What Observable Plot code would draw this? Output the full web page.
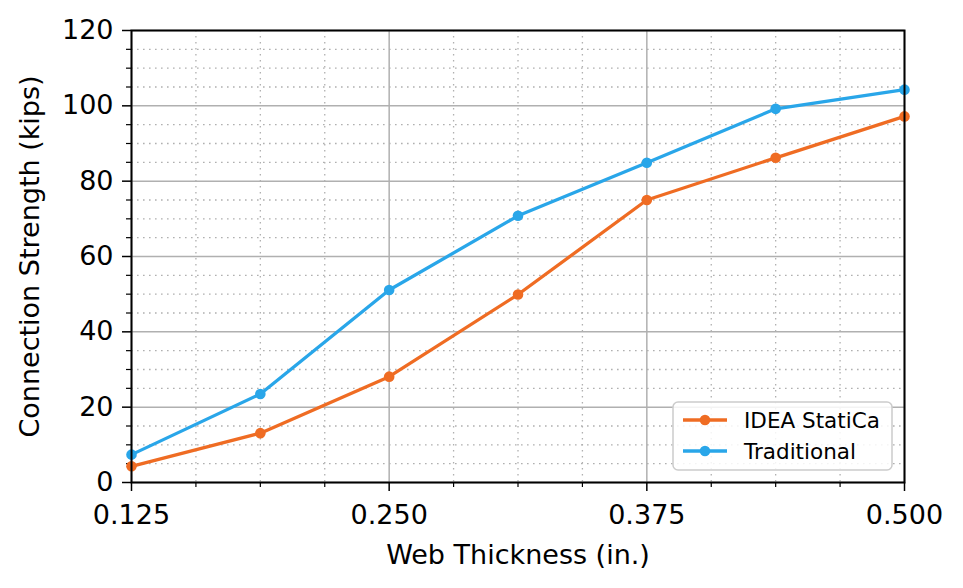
<!DOCTYPE html>
<html>
<head>
<meta charset="utf-8">
<script src="https://cdn.jsdelivr.net/npm/d3@7"></script>
<script src="https://cdn.jsdelivr.net/npm/@observablehq/plot@0.6"></script>
<style>
  html, body { margin: 0; padding: 0; background: #fff; }
  #chart { position: relative; width: 963px; height: 588px; }
</style>
</head>
<body>
<div id="chart"></div>
<script>
const thickness = [0.125, 0.1875, 0.25, 0.3125, 0.375, 0.4375, 0.5];
const ideaStatica = [4.3, 13.1, 28.1, 49.9, 75.0, 86.2, 97.2];
const traditional = [7.4, 23.5, 51.1, 70.8, 84.9, 99.2, 104.3];
const seriesNames = ["IDEA StatiCa", "Traditional"];
const seriesColors = ["#ef6c23", "#29a6e9"];
const xMajorTicks = [0.125, 0.25, 0.375, 0.5];
const xMinorTicks = [0.15625, 0.1875, 0.21875, 0.28125, 0.3125, 0.34375, 0.40625, 0.4375, 0.46875];
const yMajorTicks = [0, 20, 40, 60, 80, 100, 120];
const yMinorTicks = [5, 10, 15, 25, 30, 35, 45, 50, 55, 65, 70, 75, 85, 90, 95, 105, 110, 115];

const data = [];
thickness.forEach((t, i) => {
  data.push({x: t, y: ideaStatica[i], s: seriesNames[0]});
});
thickness.forEach((t, i) => {
  data.push({x: t, y: traditional[i], s: seriesNames[1]});
});

const font = "DejaVu Sans";
const plot = Plot.plot({
  width: 963,
  height: 588,
  marginLeft: 131,
  marginRight: 59,
  marginTop: 30,
  marginBottom: 106,
  style: {fontFamily: font, fontSize: "26px", color: "#000", background: "#fff"},
  x: {domain: [0.125, 0.5]},
  y: {domain: [0, 120]},
  color: {domain: seriesNames, range: seriesColors},
  marks: [
    Plot.ruleY(yMinorTicks, {stroke: "#b0b0b0", strokeWidth: 1.3, strokeDasharray: "1.6,4.4"}),
    Plot.ruleX(xMinorTicks, {stroke: "#b0b0b0", strokeWidth: 1.3, strokeDasharray: "1.6,4.4"}),
    Plot.ruleY(yMajorTicks, {stroke: "#b0b0b0", strokeWidth: 1.5}),
    Plot.ruleX(xMajorTicks, {stroke: "#b0b0b0", strokeWidth: 1.5}),
    Plot.axisX(xMinorTicks, {tickSize: 5, tickFormat: () => "", stroke: "#000", strokeWidth: 1.2, label: null}),
    Plot.axisY(yMinorTicks, {tickSize: 5, tickFormat: () => "", stroke: "#000", strokeWidth: 1.2, label: null}),
    Plot.axisX(xMajorTicks, {tickSize: 9, tickPadding: 13, tickFormat: d3.format(".3f"), stroke: "#000", strokeWidth: 1.5,
      label: "Web Thickness (in.)", labelAnchor: "center", labelArrow: "none", labelOffset: 81, fontSize: 27}),
    Plot.axisY(yMajorTicks, {tickSize: 9, tickPadding: 9, stroke: "#000", strokeWidth: 1.5,
      label: "Connection Strength (kips)", labelAnchor: "center", labelArrow: "none", labelOffset: 112, fontSize: 27}),
    Plot.line(data, {x: "x", y: "y", z: "s", stroke: "s", strokeWidth: 3.3}),
    Plot.dot(data, {x: "x", y: "y", fill: "s", r: 5.3, stroke: null}),
    Plot.frame({stroke: "#000", strokeWidth: 2})
  ]
});
document.getElementById("chart").appendChild(plot);

// Legend inside the plot area (bottom right), drawn in the SVG
const svg = d3.select(plot);
const lg = svg.append("g").attr("font-family", font).attr("font-size", 21.5).attr("text-anchor", "start");
lg.append("rect").attr("x", 673).attr("y", 402).attr("width", 219).attr("height", 68)
  .attr("rx", 5).attr("fill", "#fff").attr("fill-opacity", 0.85).attr("stroke", "#cccccc").attr("stroke-width", 1.5);
seriesNames.forEach((name, i) => {
  const yy = 420 + i * 31;
  lg.append("line").attr("x1", 683).attr("x2", 727).attr("y1", yy).attr("y2", yy)
    .attr("stroke", seriesColors[i]).attr("stroke-width", 3.3);
  lg.append("circle").attr("cx", 705).attr("cy", yy).attr("r", 5.3).attr("fill", seriesColors[i]);
  lg.append("text").attr("x", 744).attr("y", yy).attr("dy", "0.35em").attr("fill", "#000").text(name);
});
</script>
</body>
</html>
